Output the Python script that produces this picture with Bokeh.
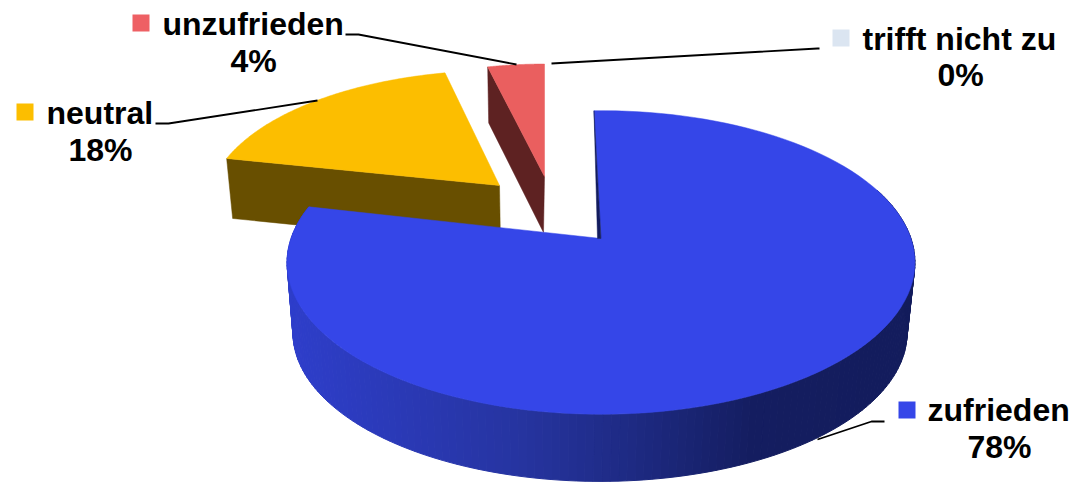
import numpy as np
from bokeh.plotting import figure
from bokeh.embed import file_html
from bokeh.resources import INLINE
from bokeh.core.properties import value

categories = ["zufrieden", "neutral", "unzufrieden", "trifft nicht zu"]
shares = [78, 18, 4, 0]
share_labels = ["78%", "18%", "4%", "0%"]
top_colors = ["#3546E8", "#FCBE00", "#EA5F5F", "#DBE5F1"]
legend_colors = ["#3546E8", "#FCBE00", "#EE6064", "#DBE5F1"]
side_colors = ["#131C5E", "#684F00", "#5E2222"]

# View geometry of the 3-D pie
RX, RY, PERSP = 310.0, 148.0, 0.158
centers = [(600.5, 238.0), (499.0, 185.0), (544.0, 176.0)]
scales_x = [1.0, 0.93, 0.88]
scales_y = [1.0, 0.90, 0.88]
nudge_start = [-1.5, 1.3, 0.5]
nudge_end = [2.0, 1.8, 0.0]


def rim(t_deg, cx, cy, sx=1.0, sy=1.0):
    t = np.radians(t_deg)
    u, v = np.sin(t), np.cos(t)
    w = 1 + PERSP * v
    return cx + sx * RX * u / w, cy - sy * RY * v / w


edges = np.concatenate([[0], np.cumsum(shares)]) * 3.6

p = figure(width=1072, height=482, x_range=(0, 1072), y_range=(482, 0),
           output_backend="svg", toolbar_location=None, min_border=0,
           background_fill_color="white", border_fill_color="white",
           outline_line_color=None)
p.axis.visible = False
p.grid.visible = False


def wedge_xy(i):
    t = np.linspace(edges[i] + nudge_start[i], edges[i + 1] + nudge_end[i], 120)
    cx, cy = centers[i]
    x, y = rim(t, cx, cy, scales_x[i], scales_y[i])
    return np.r_[cx, x], np.r_[cy, y], x, y


# yellow wedge
xs, ys, rx1, ry1 = wedge_xy(1)
cx, cy = centers[1]
p.patch([rx1[0], rx1[0] + 6, cx + 1, cx], [ry1[0], ry1[0] + 60, cy + 60, cy],
        color=side_colors[1], line_width=0.5)
p.patch(xs, ys, color=top_colors[1], line_width=0.5)

# red wedge
xs, ys, rx2, ry2 = wedge_xy(2)
cx, cy = centers[2]
p.patch([rx2[0], rx2[0] + 1, cx - 1, cx], [ry2[0], ry2[0] + 56, cy + 56, cy],
        color=side_colors[2], line_width=0.5)
p.patch(xs, ys, color=top_colors[2], line_width=0.5)

# blue wedge: shaded wall, built of thin strips
cx, cy = centers[0]
stops_x = [290, 520, 640, 750, 915]
stops_rgb = np.array([[0x2E, 0x3E, 0xCB], [0x26, 0x34, 0xA0], [0x1D, 0x29, 0x80],
                      [0x14, 0x1D, 0x60], [0x13, 0x1C, 0x5C]], float)
angs = np.linspace(70, edges[1] + nudge_end[0], 160)
ux, uy = rim(angs, cx, cy)
lx, ly = rim(angs, cx - 1, cy + 71, 0.978, 0.978)
q_x, q_y, q_c = [], [], []
for k in range(len(angs) - 1):
    q_x.append([ux[k], ux[k + 1], lx[k + 1], lx[k]])
    q_y.append([uy[k], uy[k + 1], ly[k + 1], ly[k]])
    xm = (lx[k] + lx[k + 1]) / 2
    rgb = [np.interp(xm, stops_x, stops_rgb[:, c]) for c in range(3)]
    q_c.append("#%02x%02x%02x" % tuple(int(round(c)) for c in rgb))
p.patches(q_x, q_y, fill_color=q_c, line_color=q_c, line_width=1)

xs, ys, rx0, ry0 = wedge_xy(0)
p.patch(xs, ys, color=top_colors[0], line_width=0.5)
p.patch([rx0[0], cx, cx - 3.5], [ry0[0], cy, cy], color=side_colors[0], line_width=0.5)

# leaders
leaders = [([817, 871, 884], [439, 421, 421]),
           ([155, 168, 317], [123, 123, 100]),
           ([345, 358, 516], [34, 34, 64]),
           ([551, 817, 819], [63, 48, 48])]
for lxs, lys in leaders:
    p.line(lxs, lys, line_color="black", line_width=1.8)

# labels
sq_pos = [(898, 401), (16, 103), (132, 14), (832, 29)]
name_pos = [(927, 421), (46, 124), (162, 35), (862, 50)]
pct_pos = [(999, 458), (100, 161), (253, 72), (960, 86)]
TEXT_LIFT = 11.5
for i in range(4):
    sx, sy = sq_pos[i]
    p.quad(left=[sx], right=[sx + 17], top=[sy], bottom=[sy + 17],
           fill_color=legend_colors[i], line_color=None)
    p.text([name_pos[i][0]], [name_pos[i][1] - TEXT_LIFT], text=[categories[i]],
           text_font=value("Liberation Sans"), text_font_style="bold",
           text_font_size="32px", text_color="black",
           text_align="left", text_baseline="alphabetic")
    p.text([pct_pos[i][0]], [pct_pos[i][1] - TEXT_LIFT], text=[share_labels[i]],
           text_font=value("Liberation Sans"), text_font_style="bold",
           text_font_size="32px", text_color="black",
           text_align="center", text_baseline="alphabetic")

open("out.html", "w").write(file_html(p, INLINE))
